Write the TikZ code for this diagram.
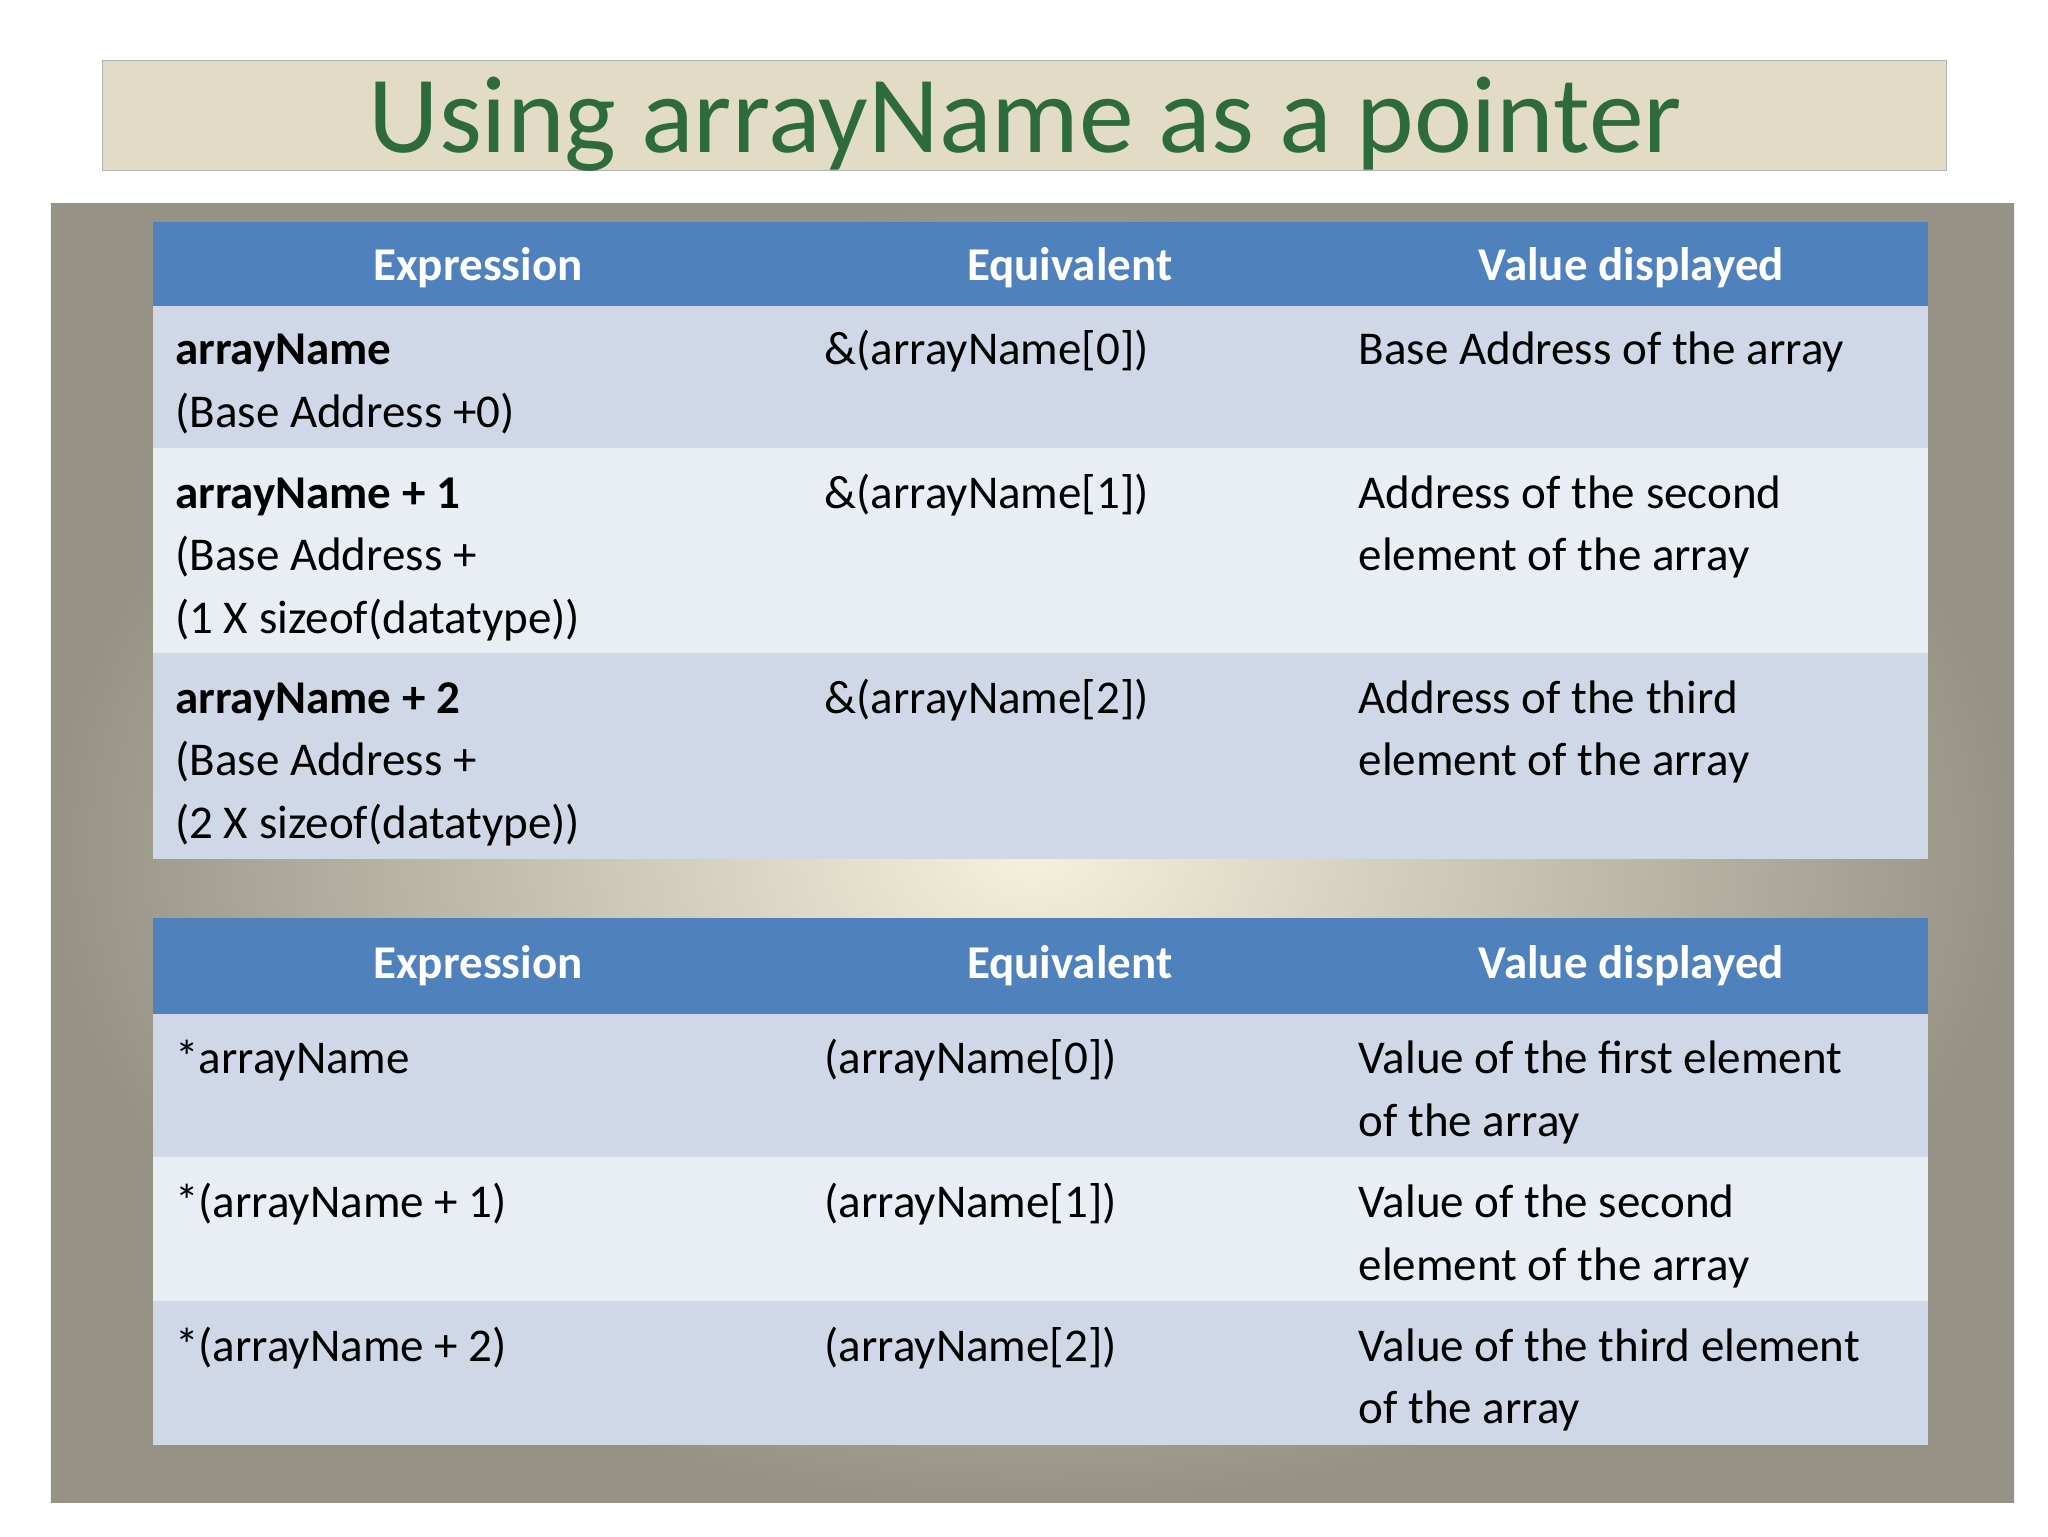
\documentclass[tikz,border=0pt]{standalone}
\usepackage{fontspec}
\setmainfont{Carlito}
\definecolor{hdr}{HTML}{4F81BD}
\definecolor{rowA}{HTML}{D0D8E8}
\definecolor{rowB}{HTML}{E9EDF4}
\definecolor{ttl}{HTML}{2E6B3A}
\definecolor{beige}{HTML}{E2DCC6}
\begin{document}
\begin{tikzpicture}[x=1pt,y=-1pt,
  cell/.style={anchor=base west,inner sep=0pt,font=\fontsize{36}{44}\selectfont},
  hd/.style={anchor=base,inner sep=0pt,text=white,font=\fontsize{36}{44}\selectfont\bfseries}]
\useasboundingbox (0,0) rectangle (1568,1176);
\fill[white] (0,0) rectangle (1568,1176);
% title
\draw[fill=beige,draw=gray!60] (78,46) rectangle (1490,130);
\node[inner sep=0pt,anchor=base,text=ttl,font=\fontsize{84}{90}\selectfont] (title) at (785,117) {Using arrayName as a pointer};
% panel
\shade[inner color={rgb,255:red,246;green,241;blue,220},outer color={rgb,255:red,150;green,147;blue,134}] (39,156) rectangle (1542,1150);
% table 1
\fill[hdr] (117,170) rectangle (1476,234);
\fill[rowA] (117,234) rectangle (1476,343);
\fill[rowB] (117,343) rectangle (1476,500);
\fill[rowA] (117,500) rectangle (1476,658);
% table 2
\fill[hdr] (117,703) rectangle (1476,776);
\fill[rowA] (117,776) rectangle (1476,886);
\fill[rowB] (117,886) rectangle (1476,996);
\fill[rowA] (117,996) rectangle (1476,1106);
% headers
\node[hd] (h1a) at (366,215) {Expression};
\node[hd] (h1b) at (819,215) {Equivalent};
\node[hd] (h1c) at (1249,215) {Value displayed};
\node[hd] (h2a) at (366,749) {Expression};
\node[hd] (h2b) at (819,749) {Equivalent};
\node[hd] (h2c) at (1249,749) {Value displayed};
% table 1 rows
\node[cell] (a1) at (134,279) {\bfseries arrayName};
\node[cell] (a2) at (134,327) {(Base Address +0)};
\node[cell] (b1) at (631,279) {\&(arrayName[0])};
\node[cell] (c1) at (1040,279) {Base Address of the array};
\node[cell] (d1) at (134,389) {\bfseries arrayName + 1};
\node[cell] (d2) at (134,437) {(Base Address +};
\node[cell] (d3) at (134,485) {(1 X sizeof(datatype))};
\node[cell] (e1) at (631,389) {\&(arrayName[1])};
\node[cell] (f1) at (1040,389) {Address of the second};
\node[cell] (f2) at (1040,437) {element of the array};
\node[cell] (g1) at (134,546) {\bfseries arrayName + 2};
\node[cell] (g2) at (134,594) {(Base Address +};
\node[cell] (g3) at (134,642) {(2 X sizeof(datatype))};
\node[cell] (i1) at (631,546) {\&(arrayName[2])};
\node[cell] (j1) at (1040,546) {Address of the third};
\node[cell] (j2) at (1040,594) {element of the array};
% table 2 rows
\node[cell] (k1) at (134,822) {*arrayName};
\node[cell] (l1) at (631,822) {(arrayName[0])};
\node[cell] (m1) at (1040,822) {Value of the first element};
\node[cell] (m2) at (1040,870) {of the array};
\node[cell] (n1) at (134,932) {*(arrayName + 1)};
\node[cell] (o1) at (631,932) {(arrayName[1])};
\node[cell] (p1) at (1040,932) {Value of the second};
\node[cell] (p2) at (1040,980) {element of the array};
\node[cell] (q1) at (134,1042) {*(arrayName + 2)};
\node[cell] (r1) at (631,1042) {(arrayName[2])};
\node[cell] (s1) at (1040,1042) {Value of the third element};
\node[cell] (s2) at (1040,1090) {of the array};
\end{tikzpicture}
\end{document}
